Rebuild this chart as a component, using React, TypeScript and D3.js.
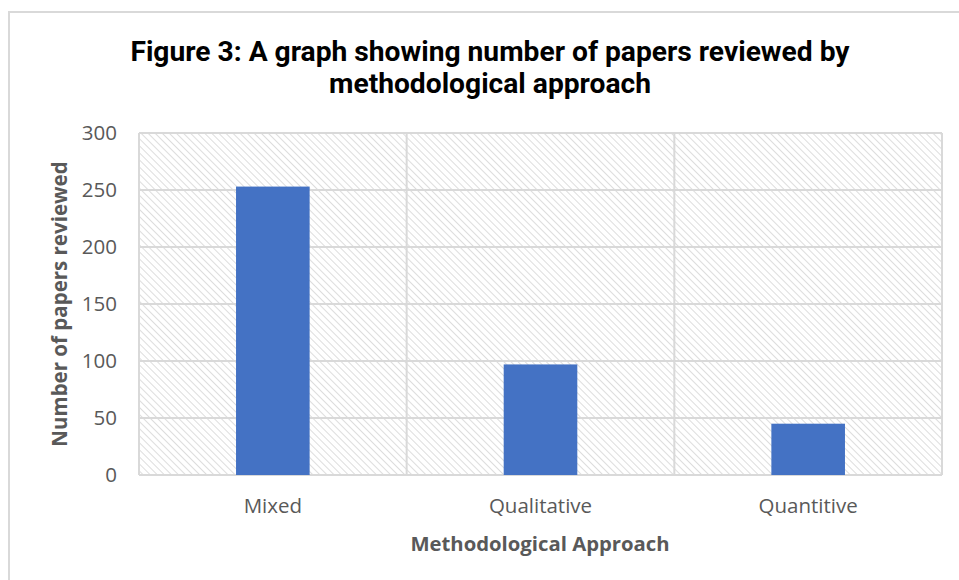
import React from "react";
import * as d3 from "d3";

const categories = ["Mixed", "Qualitative", "Quantitive"];
const values = [253, 97, 45];
const yTicks = [0, 50, 100, 150, 200, 250, 300];
const titleLines = [
  "Figure 3: A graph showing number of papers reviewed by",
  "methodological approach",
];
const xAxisTitle = "Methodological Approach";
const yAxisTitle = "Number of papers reviewed";

export default function App() {
  const W = 959;
  const H = 580;
  const left = 139;
  const right = 942;
  const top = 133;
  const bottom = 475;

  const x = d3.scaleBand<string>().domain(categories).range([left, right]).padding(0);
  const y = d3.scaleLinear().domain([0, 300]).range([bottom, top]);
  const barW = x.bandwidth() * 0.275;
  const grid = "#d9d9d9";
  const textGray = "#595959";
  const tickFont = "'Open Sans', 'Liberation Sans', sans-serif";

  return (
    <svg width={W} height={H} style={{ position: "absolute", left: 0, top: 0, background: "#fff" }}>
      <defs>
        <pattern id="hatch" width="5" height="5" patternUnits="userSpaceOnUse" patternTransform="rotate(-45)">
          <rect width="5" height="5" fill="#fff" />
          <line x1="0" y1="0" x2="0" y2="5" stroke="#d9d9d9" strokeWidth="1.8" />
        </pattern>
      </defs>
      <rect x={9} y={12} width={W} height={H} fill="#fff" stroke={grid} strokeWidth={2} />
      {titleLines.map((t, i) => (
        <text
          key={i}
          x={490}
          y={61 + i * 32}
          textAnchor="middle"
          fontFamily="Roboto, sans-serif"
          fontWeight="bold"
          fontSize={28.2}
          fill="#000"
        >
          {t}
        </text>
      ))}
      <rect x={left} y={top} width={right - left} height={bottom - top} fill="url(#hatch)" />
      {yTicks.map((t) => (
        <line key={"g" + t} x1={left} x2={right} y1={y(t)} y2={y(t)} stroke={grid} strokeWidth={2} />
      ))}
      {[...categories.map((c) => x(c) as number), right].map((xv, i) => (
        <line key={"v" + i} x1={xv} x2={xv} y1={top} y2={bottom} stroke={grid} strokeWidth={2} />
      ))}
      {categories.map((c, i) => {
        const cx = (x(c) as number) + x.bandwidth() / 2;
        return (
          <rect key={c} x={cx - barW / 2} y={y(values[i])} width={barW} height={bottom - y(values[i])} fill="#4472c4" />
        );
      })}
      {yTicks.map((t) => (
        <text key={"t" + t} x={117} y={y(t)} dy="0.35em" textAnchor="end" fontFamily={tickFont} fontSize={20.5} fill={textGray}>
          {t}
        </text>
      ))}
      {categories.map((c) => (
        <text
          key={"l" + c}
          x={(x(c) as number) + x.bandwidth() / 2}
          y={513}
          textAnchor="middle"
          fontFamily={tickFont}
          fontSize={20.5}
          fill={textGray}
        >
          {c}
        </text>
      ))}
      <text x={540} y={551} textAnchor="middle" fontFamily={tickFont} fontWeight="bold" fontSize={20.3} fill={textGray}>
        {xAxisTitle}
      </text>
      <text
        transform={`translate(67,${304}) rotate(-90)`}
        textAnchor="middle"
        fontFamily={tickFont}
        fontWeight="bold"
        fontSize={20.5}
        fill={textGray}
      >
        {yAxisTitle}
      </text>
    </svg>
  );
}
